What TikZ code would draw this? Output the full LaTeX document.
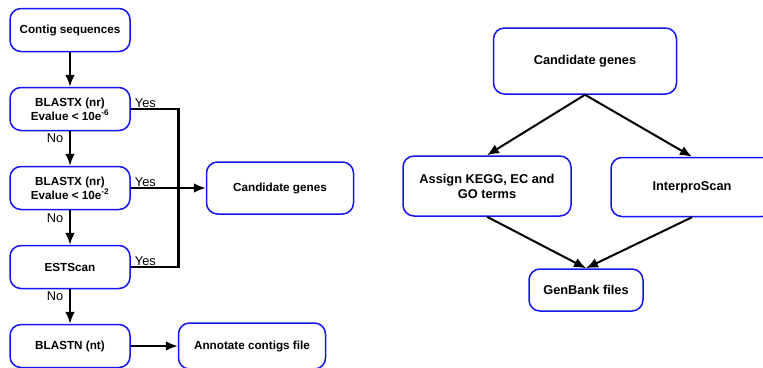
\documentclass[tikz,border=0pt]{standalone}
\usepackage{fontspec}
\setmainfont{Liberation Sans}
\usetikzlibrary{arrows.meta,positioning}
\definecolor{boxblue}{RGB}{20,20,245}

\begin{document}
\begin{tikzpicture}[x=1pt,y=-1pt,>={Latex[length=12pt,width=10pt]},node distance=34.5pt,
  box/.style={draw=boxblue,line width=1.5pt,rounded corners=11pt,fill=white,align=center,
    minimum width=120pt,minimum height=43pt,inner sep=2pt,
    font=\fontsize{11.7}{14}\selectfont\bfseries},
  bigbox/.style={box,font=\fontsize{12.8}{15}\selectfont\bfseries},
  flow/.style={->,line width=2.6pt},
  link/.style={->,line width=2pt},
  answer/.style={font=\fontsize{12.8}{15}\selectfont,inner sep=1pt}]
\useasboundingbox (0,0) rectangle (763,367);
% annotation pipeline
\node[box] (contig) at (70,30) {Contig sequences};
\node[box,below=of contig] (blastxa) {BLASTX (nr)\\Evalue < 10e\textsuperscript{-6}};
\node[box,below=of blastxa] (blastxb) {BLASTX (nr)\\Evalue < 10e\textsuperscript{-2}};
\node[box,below=of blastxb] (estscan) {ESTScan};
\node[box,below=of estscan] (blastn) {BLASTN (nt)};
\node[box,right=75pt of blastxb,minimum width=147pt,minimum height=52pt] (candl) {Candidate genes};
\node[box,right=47pt of blastn,minimum width=147pt,minimum height=46pt] (annot) {Annotate contigs file};
\coordinate (yesbus) at ([xshift=48pt]blastxa.east);
\draw[flow] (contig)--(blastxa);
\draw[flow] (blastxa)--(blastxb);
\draw[flow] (blastxb)--(estscan);
\draw[flow] (estscan)--(blastn);
\draw[line width=2.6pt] (blastxa.east)--(yesbus) |- (estscan.east);
\draw[flow] (blastxb.east)--(candl.west);
\draw[flow] (blastn.east)--(annot.west);
\node[answer,anchor=south west] at ([xshift=3pt]blastxa.east) {Yes};
\node[answer,anchor=south west] at ([xshift=3pt]blastxb.east) {Yes};
\node[answer,anchor=south west] at ([xshift=3pt]estscan.east) {Yes};
\node[answer] at (55,138) {No};
\node[answer] at (55,218) {No};
\node[answer] at (55,296) {No};
% gene products
\node[bigbox,minimum width=183pt,minimum height=66pt] (candr) at (585,61) {Candidate genes};
\node[bigbox,minimum width=168pt,minimum height=60pt] (assign) at (487,186) {Assign KEGG, EC and\\GO terms};
\node[bigbox,minimum width=162pt,minimum height=59pt] (interpro) at (692,187) {InterproScan};
\node[bigbox,minimum width=114pt,minimum height=42pt] (genbank) at (586,290) {GenBank files};
\draw[link] (candr.south)--(assign.north);
\draw[link] (candr.south)--(interpro.north);
\draw[link] (assign.south)--(genbank.north);
\draw[link] (interpro.south)--(genbank.north);
\end{tikzpicture}
\end{document}
